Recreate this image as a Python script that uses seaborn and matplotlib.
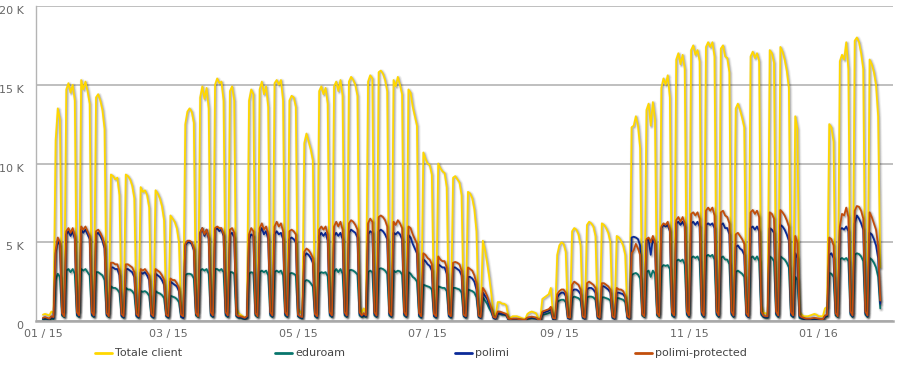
import matplotlib
matplotlib.use("Agg")
import matplotlib.pyplot as plt
import matplotlib.dates as mdates
import matplotlib.patheffects as pe
import matplotlib.transforms as mtransforms
from matplotlib.lines import Line2D
import seaborn as sns
import numpy as np
import pandas as pd

# daily client counts (thousands), one row per week (Mon..Sun),
# data starts Thu 2015-01-01 and ends Sat 2016-01-30
total_k = [
    [0.4, 0.45, 0.4, 0.35],
    [0.6, 0.5, 11.5, 13.5, 12.8, 1.0, 0.6],
    [14.7, 15.1, 14.5, 15.0, 14.0, 1.1, 0.6],
    [15.3, 14.7, 15.2, 14.6, 13.8, 1.1, 0.6],
    [14.2, 14.4, 14.0, 13.4, 12.2, 0.9, 0.5],
    [9.3, 9.2, 9.0, 9.1, 8.0, 0.8, 0.5],
    [9.3, 9.2, 9.0, 8.6, 7.8, 0.8, 0.5],
    [8.5, 8.2, 8.3, 8.0, 7.2, 0.8, 0.5],
    [8.3, 8.1, 7.8, 7.3, 6.4, 0.7, 0.4],
    [6.7, 6.5, 6.3, 5.9, 5.0, 0.7, 0.4],
    [12.5, 13.3, 13.5, 13.3, 12.6, 1.0, 0.6],
    [14.2, 14.9, 14.1, 14.8, 13.5, 1.1, 0.6],
    [15.0, 15.4, 15.1, 15.2, 14.0, 1.1, 0.6],
    [14.6, 14.9, 14.0, 0.8, 0.5, 0.4, 0.3],
    [0.2, 0.3, 14.0, 14.7, 14.4, 1.0, 0.5],
    [14.7, 15.2, 14.4, 14.9, 13.6, 1.0, 0.5],
    [15.1, 15.3, 15.0, 15.3, 14.0, 1.0, 0.5],
    [14.0, 14.3, 14.2, 13.6, 0.8, 0.6, 0.4],
    [11.3, 11.9, 11.4, 10.9, 10.2, 0.9, 0.5],
    [14.6, 14.9, 14.4, 14.8, 13.8, 1.0, 0.5],
    [14.9, 15.2, 14.6, 15.3, 14.3, 1.0, 0.5],
    [15.2, 15.5, 15.3, 15.0, 14.3, 1.0, 0.5],
    [0.8, 0.5, 15.2, 15.6, 15.4, 1.0, 0.5],
    [15.8, 15.9, 15.7, 15.3, 14.6, 1.0, 0.5],
    [15.3, 14.9, 15.5, 15.0, 14.4, 1.0, 0.5],
    [14.7, 14.5, 13.6, 13.0, 12.4, 0.9, 0.5],
    [10.7, 10.3, 10.0, 9.9, 9.3, 0.8, 0.4],
    [10.0, 9.7, 9.5, 9.4, 8.5, 0.8, 0.4],
    [9.1, 9.2, 9.0, 8.8, 8.0, 0.7, 0.4],
    [8.2, 8.1, 7.8, 7.1, 5.7, 0.6, 0.4],
    [5.1, 4.5, 3.7, 2.8, 1.7, 0.5, 0.3],
    [1.2, 1.2, 1.1, 1.1, 1.0, 0.3, 0.2],
    [0.3, 0.3, 0.3, 0.25, 0.2, 0.15, 0.15],
    [0.45, 0.55, 0.6, 0.55, 0.5, 0.2, 0.15],
    [1.4, 1.5, 1.6, 1.7, 2.1, 0.4, 0.3],
    [4.2, 4.8, 5.0, 4.9, 4.4, 0.5, 0.3],
    [5.7, 5.9, 5.8, 5.5, 4.8, 0.5, 0.3],
    [6.1, 6.3, 6.2, 6.0, 5.4, 0.5, 0.3],
    [6.2, 6.1, 5.9, 5.6, 5.0, 0.5, 0.3],
    [5.4, 5.3, 5.1, 4.8, 4.2, 0.5, 0.3],
    [12.3, 12.4, 13.0, 12.4, 11.0, 1.0, 0.5],
    [13.4, 13.8, 12.4, 13.9, 12.8, 1.0, 0.5],
    [14.8, 15.4, 15.0, 15.6, 14.2, 1.0, 0.5],
    [16.6, 17.0, 16.3, 16.9, 16.0, 1.0, 0.5],
    [17.2, 17.5, 16.9, 17.2, 16.5, 1.0, 0.5],
    [17.4, 17.7, 17.4, 17.7, 16.8, 1.0, 0.5],
    [17.3, 17.5, 16.8, 16.7, 15.8, 1.0, 0.5],
    [13.5, 13.8, 13.4, 12.9, 12.3, 0.9, 0.5],
    [16.8, 17.1, 16.7, 17.0, 16.5, 1.0, 0.5],
    [0.5, 0.4, 17.2, 17.0, 16.4, 1.0, 0.5],
    [17.4, 17.1, 16.6, 15.9, 14.8, 0.9, 0.5],
    [13.0, 12.2, 0.6, 0.4, 0.3, 0.3, 0.3],
    [0.35, 0.4, 0.45, 0.4, 0.3, 0.3, 0.3],
    [0.8, 0.9, 12.5, 12.3, 11.4, 0.9, 0.5],
    [16.5, 16.9, 16.6, 17.7, 16.0, 1.0, 0.5],
    [17.8, 18.0, 17.7, 17.0, 16.0, 1.0, 0.5],
    [16.6, 16.3, 15.8, 15.0, 13.0, 3.4],
]

eduroam_k = [
    [0.1, 0.12, 0.1, 0.08],
    [0.15, 0.12, 2.6, 3.0, 2.8, 0.35, 0.25],
    [3.2, 3.3, 3.1, 3.3, 3.0, 0.35, 0.25],
    [3.3, 3.2, 3.3, 3.1, 2.9, 0.35, 0.25],
    [3.1, 3.1, 3.0, 2.9, 2.6, 0.35, 0.25],
    [2.2, 2.1, 2.1, 2.0, 1.8, 0.3, 0.2],
    [2.1, 2.0, 2.0, 1.9, 1.7, 0.3, 0.2],
    [1.9, 1.85, 1.9, 1.8, 1.6, 0.3, 0.2],
    [1.9, 1.8, 1.75, 1.65, 1.45, 0.3, 0.2],
    [1.6, 1.55, 1.5, 1.4, 1.2, 0.25, 0.2],
    [2.9, 3.0, 3.0, 2.95, 2.7, 0.35, 0.25],
    [3.2, 3.3, 3.2, 3.3, 3.0, 0.35, 0.25],
    [3.3, 3.3, 3.2, 3.3, 3.1, 0.35, 0.25],
    [3.1, 3.1, 3.0, 0.3, 0.2, 0.2, 0.15],
    [0.12, 0.2, 3.0, 3.1, 3.05, 0.35, 0.25],
    [3.1, 3.2, 3.1, 3.2, 2.9, 0.35, 0.25],
    [3.1, 3.2, 3.1, 3.2, 2.9, 0.35, 0.25],
    [3.0, 3.05, 3.0, 2.9, 0.3, 0.2, 0.15],
    [2.5, 2.6, 2.55, 2.4, 2.2, 0.3, 0.2],
    [3.0, 3.1, 3.05, 3.1, 2.85, 0.35, 0.25],
    [3.1, 3.3, 3.1, 3.3, 3.0, 0.35, 0.25],
    [3.2, 3.25, 3.2, 3.1, 2.95, 0.35, 0.25],
    [0.3, 0.25, 3.1, 3.2, 3.1, 0.35, 0.25],
    [3.3, 3.35, 3.3, 3.2, 3.0, 0.35, 0.25],
    [3.2, 3.1, 3.2, 3.15, 2.95, 0.35, 0.25],
    [3.1, 3.0, 2.8, 2.7, 2.5, 0.3, 0.2],
    [2.3, 2.25, 2.2, 2.15, 2.0, 0.3, 0.2],
    [2.2, 2.15, 2.1, 2.1, 1.9, 0.3, 0.2],
    [2.1, 2.1, 2.05, 2.0, 1.8, 0.3, 0.2],
    [2.0, 1.95, 1.9, 1.8, 1.5, 0.25, 0.2],
    [1.5, 1.3, 1.1, 0.8, 0.55, 0.2, 0.15],
    [0.45, 0.45, 0.4, 0.4, 0.35, 0.1, 0.08],
    [0.1, 0.1, 0.1, 0.08, 0.07, 0.06, 0.06],
    [0.15, 0.16, 0.18, 0.16, 0.15, 0.07, 0.06],
    [0.4, 0.42, 0.45, 0.5, 0.55, 0.12, 0.1],
    [1.2, 1.3, 1.35, 1.35, 1.2, 0.2, 0.15],
    [1.45, 1.55, 1.5, 1.45, 1.3, 0.2, 0.15],
    [1.5, 1.55, 1.55, 1.5, 1.35, 0.2, 0.15],
    [1.5, 1.5, 1.45, 1.4, 1.3, 0.2, 0.15],
    [1.45, 1.45, 1.4, 1.35, 1.2, 0.2, 0.15],
    [2.9, 3.0, 3.05, 2.95, 2.7, 0.35, 0.25],
    [3.1, 3.2, 2.8, 3.2, 3.0, 0.35, 0.25],
    [3.4, 3.55, 3.5, 3.55, 3.3, 0.35, 0.25],
    [3.8, 3.9, 3.8, 3.9, 3.6, 0.4, 0.25],
    [4.0, 4.1, 4.0, 4.1, 3.8, 0.4, 0.25],
    [4.1, 4.2, 4.1, 4.2, 3.9, 0.4, 0.25],
    [4.0, 4.1, 3.9, 3.9, 3.6, 0.4, 0.25],
    [3.1, 3.2, 3.1, 3.0, 2.8, 0.35, 0.25],
    [4.0, 4.1, 3.9, 4.1, 3.8, 0.4, 0.25],
    [0.2, 0.2, 4.1, 4.0, 3.8, 0.4, 0.25],
    [4.1, 4.0, 3.9, 3.7, 3.4, 0.35, 0.25],
    [2.8, 2.6, 0.2, 0.15, 0.12, 0.1, 0.1],
    [0.1, 0.1, 0.12, 0.1, 0.1, 0.08, 0.08],
    [0.25, 0.3, 3.05, 3.0, 2.8, 0.35, 0.25],
    [3.9, 4.0, 3.9, 4.0, 3.8, 0.4, 0.25],
    [4.2, 4.3, 4.25, 4.1, 3.8, 0.4, 0.25],
    [4.0, 3.9, 3.7, 3.4, 2.8, 0.8],
]

polimi_k = [
    [0.15, 0.2, 0.15, 0.12],
    [0.25, 0.2, 4.3, 5.1, 4.8, 0.45, 0.3],
    [5.5, 5.7, 5.4, 5.7, 5.2, 0.45, 0.3],
    [5.8, 5.6, 5.8, 5.5, 5.2, 0.45, 0.3],
    [5.5, 5.6, 5.4, 5.1, 4.6, 0.4, 0.3],
    [3.4, 3.4, 3.3, 3.3, 2.9, 0.35, 0.25],
    [3.3, 3.3, 3.2, 3.1, 2.8, 0.35, 0.25],
    [3.1, 3.0, 3.1, 2.9, 2.6, 0.35, 0.25],
    [3.0, 2.9, 2.8, 2.6, 2.3, 0.35, 0.25],
    [2.5, 2.4, 2.3, 2.2, 1.9, 0.3, 0.2],
    [4.8, 5.0, 5.0, 4.9, 4.5, 0.45, 0.3],
    [5.6, 5.9, 5.4, 5.8, 5.2, 0.45, 0.3],
    [5.8, 5.9, 5.7, 5.8, 5.4, 0.45, 0.3],
    [5.5, 5.6, 5.3, 0.35, 0.25, 0.25, 0.2],
    [0.15, 0.25, 5.2, 5.5, 5.4, 0.45, 0.3],
    [5.6, 5.9, 5.5, 5.7, 5.2, 0.45, 0.3],
    [5.5, 5.7, 5.5, 5.6, 5.2, 0.45, 0.3],
    [5.2, 5.3, 5.2, 5.0, 0.35, 0.25, 0.2],
    [4.1, 4.3, 4.2, 4.0, 3.7, 0.4, 0.25],
    [5.4, 5.6, 5.4, 5.6, 5.1, 0.45, 0.3],
    [5.4, 5.6, 5.4, 5.6, 5.2, 0.45, 0.3],
    [5.6, 5.8, 5.7, 5.6, 5.3, 0.45, 0.3],
    [0.4, 0.3, 5.5, 5.7, 5.6, 0.45, 0.3],
    [5.7, 5.8, 5.7, 5.5, 5.2, 0.45, 0.3],
    [5.6, 5.5, 5.65, 5.5, 5.2, 0.45, 0.3],
    [5.45, 5.3, 4.9, 4.6, 4.3, 0.4, 0.25],
    [3.9, 3.8, 3.6, 3.5, 3.2, 0.35, 0.25],
    [3.6, 3.5, 3.4, 3.4, 3.0, 0.35, 0.25],
    [3.4, 3.4, 3.3, 3.2, 2.9, 0.35, 0.25],
    [2.8, 2.8, 2.7, 2.5, 2.0, 0.3, 0.2],
    [1.8, 1.6, 1.4, 1.0, 0.7, 0.2, 0.15],
    [0.5, 0.5, 0.45, 0.45, 0.4, 0.12, 0.1],
    [0.12, 0.12, 0.12, 0.1, 0.08, 0.07, 0.07],
    [0.18, 0.2, 0.22, 0.2, 0.18, 0.08, 0.07],
    [0.5, 0.55, 0.6, 0.65, 0.75, 0.15, 0.12],
    [1.5, 1.7, 1.8, 1.8, 1.6, 0.2, 0.15],
    [1.9, 2.0, 2.0, 1.9, 1.7, 0.25, 0.15],
    [2.0, 2.1, 2.1, 2.0, 1.8, 0.25, 0.15],
    [2.2, 2.2, 2.1, 2.0, 1.8, 0.25, 0.15],
    [1.8, 1.8, 1.75, 1.7, 1.5, 0.25, 0.15],
    [5.3, 5.35, 5.3, 5.2, 4.8, 0.45, 0.3],
    [5.1, 5.2, 4.2, 5.2, 4.9, 0.45, 0.3],
    [5.9, 6.1, 6.0, 6.1, 5.7, 0.5, 0.3],
    [6.2, 6.3, 6.1, 6.3, 6.0, 0.5, 0.3],
    [6.2, 6.3, 6.1, 6.3, 6.0, 0.5, 0.3],
    [6.1, 6.2, 6.1, 6.2, 5.9, 0.5, 0.3],
    [6.1, 6.2, 5.9, 5.9, 5.5, 0.5, 0.3],
    [4.7, 4.8, 4.6, 4.5, 4.2, 0.4, 0.25],
    [5.9, 6.0, 5.8, 6.0, 5.7, 0.5, 0.3],
    [0.25, 0.25, 5.9, 5.8, 5.6, 0.5, 0.3],
    [6.1, 6.0, 5.8, 5.5, 5.1, 0.45, 0.3],
    [4.3, 4.0, 0.3, 0.2, 0.15, 0.12, 0.12],
    [0.12, 0.14, 0.15, 0.14, 0.12, 0.1, 0.1],
    [0.3, 0.35, 4.2, 4.3, 4.0, 0.45, 0.3],
    [5.8, 5.9, 5.8, 6.0, 5.7, 0.5, 0.3],
    [6.2, 6.7, 6.5, 6.2, 5.8, 0.5, 0.3],
    [5.6, 5.5, 5.2, 4.8, 4.0, 1.1],
]

protected_k = [
    [0.2, 0.25, 0.2, 0.15],
    [0.3, 0.25, 4.5, 5.3, 5.0, 0.5, 0.3],
    [5.7, 5.9, 5.6, 5.9, 5.4, 0.55, 0.35],
    [6.0, 5.8, 6.0, 5.7, 5.4, 0.55, 0.35],
    [5.7, 5.8, 5.6, 5.3, 4.8, 0.5, 0.3],
    [3.7, 3.7, 3.6, 3.6, 3.2, 0.45, 0.3],
    [3.6, 3.6, 3.5, 3.4, 3.1, 0.45, 0.3],
    [3.3, 3.2, 3.3, 3.1, 2.9, 0.45, 0.3],
    [3.3, 3.2, 3.1, 2.9, 2.6, 0.4, 0.3],
    [2.7, 2.6, 2.6, 2.4, 2.1, 0.4, 0.3],
    [4.9, 5.1, 5.1, 5.0, 4.6, 0.5, 0.3],
    [5.6, 5.9, 5.5, 5.8, 5.3, 0.55, 0.35],
    [5.9, 6.0, 5.9, 5.9, 5.5, 0.55, 0.35],
    [5.8, 5.9, 5.6, 0.4, 0.3, 0.3, 0.25],
    [0.2, 0.3, 5.5, 5.9, 5.7, 0.5, 0.3],
    [5.9, 6.2, 5.8, 6.0, 5.5, 0.55, 0.35],
    [6.0, 6.3, 6.0, 6.2, 5.7, 0.55, 0.35],
    [5.7, 5.8, 5.7, 5.5, 0.4, 0.3, 0.25],
    [4.4, 4.6, 4.5, 4.3, 4.0, 0.45, 0.3],
    [5.8, 6.0, 5.8, 6.0, 5.5, 0.55, 0.35],
    [6.0, 6.3, 6.0, 6.3, 5.8, 0.55, 0.35],
    [6.2, 6.4, 6.3, 6.1, 5.8, 0.55, 0.35],
    [0.5, 0.35, 6.2, 6.5, 6.3, 0.55, 0.35],
    [6.6, 6.7, 6.6, 6.4, 6.0, 0.55, 0.35],
    [6.3, 6.1, 6.4, 6.2, 5.9, 0.55, 0.35],
    [6.0, 5.9, 5.5, 5.2, 4.9, 0.5, 0.3],
    [4.3, 4.2, 4.0, 3.9, 3.6, 0.45, 0.3],
    [4.1, 3.9, 3.8, 3.8, 3.4, 0.45, 0.3],
    [3.7, 3.75, 3.7, 3.6, 3.2, 0.4, 0.3],
    [3.4, 3.3, 3.2, 2.9, 2.4, 0.35, 0.25],
    [2.1, 1.9, 1.6, 1.2, 0.8, 0.25, 0.2],
    [0.6, 0.6, 0.55, 0.5, 0.45, 0.15, 0.12],
    [0.15, 0.15, 0.15, 0.12, 0.1, 0.08, 0.08],
    [0.22, 0.25, 0.28, 0.25, 0.22, 0.1, 0.08],
    [0.6, 0.65, 0.7, 0.75, 0.9, 0.2, 0.15],
    [1.7, 1.9, 2.0, 2.0, 1.8, 0.25, 0.2],
    [2.3, 2.5, 2.4, 2.3, 2.0, 0.3, 0.2],
    [2.4, 2.5, 2.4, 2.3, 2.1, 0.3, 0.2],
    [2.4, 2.4, 2.3, 2.2, 2.0, 0.3, 0.2],
    [2.1, 2.0, 2.0, 1.9, 1.6, 0.3, 0.2],
    [4.3, 4.5, 4.9, 4.6, 4.2, 0.45, 0.3],
    [5.2, 5.3, 5.0, 5.4, 5.0, 0.5, 0.3],
    [6.0, 6.2, 6.1, 6.3, 5.8, 0.55, 0.35],
    [6.4, 6.6, 6.3, 6.6, 6.2, 0.6, 0.35],
    [6.8, 6.9, 6.7, 6.9, 6.5, 0.6, 0.35],
    [7.0, 7.2, 7.0, 7.2, 6.7, 0.6, 0.35],
    [6.9, 7.0, 6.7, 6.6, 6.2, 0.6, 0.35],
    [5.5, 5.6, 5.4, 5.2, 4.9, 0.5, 0.3],
    [6.9, 7.05, 6.8, 7.0, 6.6, 0.6, 0.35],
    [0.3, 0.3, 6.9, 6.8, 6.5, 0.6, 0.35],
    [7.05, 6.9, 6.7, 6.4, 6.0, 0.55, 0.35],
    [5.4, 5.0, 0.35, 0.25, 0.2, 0.15, 0.15],
    [0.15, 0.18, 0.2, 0.18, 0.15, 0.12, 0.12],
    [0.35, 0.4, 5.3, 5.2, 4.8, 0.5, 0.3],
    [6.0, 6.8, 6.7, 7.2, 6.6, 0.6, 0.35],
    [7.0, 7.3, 7.25, 7.0, 6.5, 0.6, 0.35],
    [6.9, 6.6, 6.2, 5.8, 4.8, 1.3],
]

series_names = ["Totale client", "eduroam", "polimi", "polimi-protected"]
series_colors = ["#FFD700", "#08756C", "#0B2A98", "#C24E0C"]
tick_dates = ["2015-01-01", "2015-03-01", "2015-05-01", "2015-07-01",
              "2015-09-01", "2015-11-01", "2016-01-01"]
y_ticks = [0, 5, 10, 15, 20]
y_labels = ["0", "5 K", "10 K", "15 K", "20 K"]


def flatten(weeks):
    return [v for week in weeks for v in week]


values = [flatten(s) for s in (total_k, eduroam_k, polimi_k, protected_k)]
dates = pd.date_range("2015-01-01", periods=len(values[0]), freq="D")

frames = []
for name, vals in zip(series_names, values):
    frames.append(pd.DataFrame({"date": dates, "clients": vals, "series": name}))
df = pd.concat(frames, ignore_index=True)

sns.set_style("white")
plt.rcParams["font.family"] = ["DejaVu Sans"]

W, H = 902, 366
fig = plt.figure(figsize=(W / 100, H / 100), dpi=100)
ax = fig.add_axes([36 / W, (H - 321) / H, (893 - 36) / W, (321 - 6) / H])

sns.lineplot(data=df, x="date", y="clients", hue="series",
             hue_order=series_names, palette=series_colors,
             estimator=None, linewidth=1.3, legend=False, ax=ax)

# soft highcharts-like shadow: three faint offset strokes under each line
shadow = [
    pe.SimpleLineShadow(offset=(0.8, -0.8), shadow_color="black", alpha=0.05, linewidth=3.8),
    pe.SimpleLineShadow(offset=(0.8, -0.8), shadow_color="black", alpha=0.10, linewidth=2.4),
    pe.SimpleLineShadow(offset=(0.8, -0.8), shadow_color="black", alpha=0.15, linewidth=1.2),
    pe.Normal(),
]
for line in ax.get_lines():
    line.set_path_effects(shadow)
    line.set_solid_joinstyle("round")

ax.set_xlim(pd.Timestamp("2014-12-28 18:00"), pd.Timestamp("2016-02-05"))
ax.set_ylim(0, 20)

ax.set_xticks(pd.to_datetime(tick_dates))
ax.xaxis.set_major_formatter(mdates.DateFormatter("%m / %y"))
ax.set_yticks(y_ticks)
ax.set_yticklabels(y_labels)

ax.grid(axis="y", color="#b4b4b4", linewidth=1.2)
ax.grid(axis="x", visible=False)
ax.set_axisbelow(True)

for side in ["top", "right"]:
    ax.spines[side].set_visible(False)
ax.spines["left"].set_color("#b4b4b4")
ax.spines["left"].set_linewidth(1.0)
ax.spines["bottom"].set_color("#a8a8a8")
ax.spines["bottom"].set_linewidth(1.8)

ax.tick_params(axis="both", length=0, labelsize=8, labelcolor="#666666")
ax.tick_params(axis="x", pad=6)
ax.tick_params(axis="y", pad=9)
offset = mtransforms.ScaledTranslation(0, -4 / 100, fig.dpi_scale_trans)
for lbl in ax.get_yticklabels():
    lbl.set_transform(lbl.get_transform() + offset)

ax.set_xlabel("")
ax.set_ylabel("")

# legend row under the plot
leg_y = (H - 353) / H
swatch_x = [95, 275, 455, 635]
for x0, name, color in zip(swatch_x, series_names, series_colors):
    fig.add_artist(Line2D([x0 / W, (x0 + 17) / W], [leg_y, leg_y],
                          color=color, linewidth=2, transform=fig.transFigure))
    fig.text((x0 + 20) / W, leg_y, name, fontsize=8, color="#444444",
             va="center", ha="left")

fig.savefig("out.png", dpi=100, facecolor="white")
